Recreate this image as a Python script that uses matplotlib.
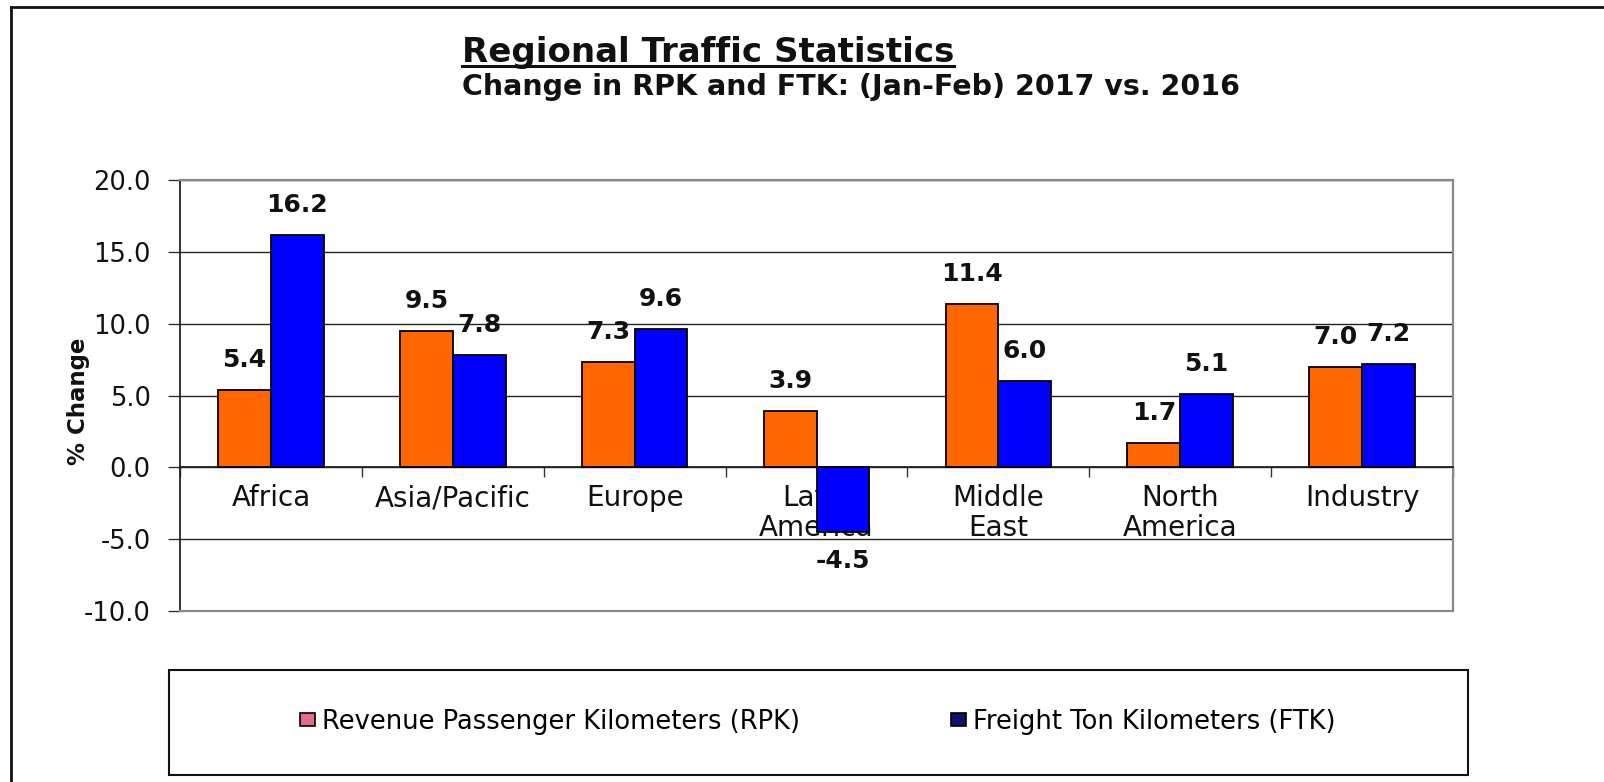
import numpy as np
import matplotlib
matplotlib.use("Agg")
import matplotlib.pyplot as plt
from matplotlib.patches import Rectangle, Patch
from matplotlib.lines import Line2D

# ---- data ----
categories = ["Africa", "Asia/Pacific", "Europe", "Latin\nAmerica",
              "Middle\nEast", "North\nAmerica", "Industry"]
rpk = [5.4, 9.5, 7.3, 3.9, 11.4, 1.7, 7.0]
ftk = [16.2, 7.8, 9.6, -4.5, 6.0, 5.1, 7.2]
series_names = ["Revenue Passenger Kilometers (RPK)", "Freight Ton Kilometers (FTK)"]
yticks = [-10, -5, 0, 5, 10, 15, 20]
title = "Regional Traffic Statistics"
subtitle = "Change in RPK and FTK: (Jan-Feb) 2017 vs. 2016"
ylabel = "% Change"

plt.rcParams['font.family'] = ['DejaVu Sans']

W, H = 1604, 782
fig = plt.figure(figsize=(W / 100, H / 100), dpi=100)
fig.patch.set_facecolor('white')

ax = fig.add_axes([180 / W, 1 - 611 / H, (1453 - 180) / W, (611 - 180) / H])

x = np.arange(len(categories))
w = 0.29
bars_rpk = ax.bar(x - w / 2, rpk, w, color='#FF6600', edgecolor='black', linewidth=1.3, zorder=3)
bars_ftk = ax.bar(x + w / 2, ftk, w, color='#0000FF', edgecolor='black', linewidth=1.3, zorder=3)

ax.set_xlim(-0.5, len(categories) - 0.5)
ax.set_ylim(yticks[0], yticks[-1])
ax.set_yticks(yticks)
ax.set_yticklabels([f"{v:.1f}" for v in yticks])
ax.tick_params(axis='y', direction='out', length=9, width=1, pad=12, labelsize=18.5,
               color='#333333', labelcolor='#111111')

# category boundary ticks on the zero line
ax.set_xticks(np.arange(len(categories) + 1) - 0.5)
ax.set_xticklabels([])
ax.tick_params(axis='x', direction='out', length=7, width=1, color='#333333')

ax.set_axisbelow(True)
ax.yaxis.grid(True, color='#222222', linewidth=1.0, zorder=0.5)

ax.spines['left'].set_color('#222222')
ax.spines['left'].set_linewidth(1.3)
ax.spines['bottom'].set_position(('data', 0))
ax.spines['bottom'].set_color('#222222')
ax.spines['bottom'].set_linewidth(1.3)
for s in ('top', 'right'):
    ax.spines[s].set_color('#8a8a8a')
    ax.spines[s].set_linewidth(1.6)
ax.axhline(yticks[0], color='#8a8a8a', linewidth=1.6, zorder=5, clip_on=False)

# category labels (drawn beneath the bars)
px = 0.72  # points per pixel at dpi 100
for i, lab in enumerate(categories):
    for j, line in enumerate(lab.split('\n')):
        ax.annotate(line, xy=(x[i], 0), xytext=(0, -(39 + 30 * j) * px),
                    textcoords='offset points', ha='center', va='baseline',
                    fontsize=20, color='#111111', zorder=2, annotation_clip=False)

# data labels
for bars, vals in ((bars_rpk, rpk), (bars_ftk, ftk)):
    for rect, v in zip(bars, vals):
        off = 30 * px if v >= 0 else -29 * px
        ax.annotate(f"{v:.1f}", xy=(rect.get_x() + rect.get_width() / 2, v),
                    xytext=(0, off), textcoords='offset points',
                    ha='center', va='center', fontsize=18, fontweight='bold',
                    color='#111111', zorder=4, annotation_clip=False)

# y label
fig.text(78 / W, 1 - 401 / H, ylabel, rotation=90, ha='center', va='center',
         fontsize=16.5, fontweight='bold', color='#111111')

# titles
t = fig.text(462 / W, 1 - 62 / H, title, ha='left', va='baseline',
             fontsize=24.5, fontweight='bold', color='#111111')
fig.text(462 / W, 1 - 95 / H, subtitle, ha='left', va='baseline',
         fontsize=20.5, fontweight='bold', color='#111111')
fig.canvas.draw()
bb = t.get_window_extent()
fig.add_artist(Line2D([bb.x0 / W, bb.x1 / W], [1 - 66 / H, 1 - 66 / H],
                      transform=fig.transFigure, color='#111111', linewidth=2.2))

# legend
handles = [Patch(facecolor='#E46C8A', edgecolor='black', linewidth=1.2),
           Patch(facecolor='#101070', edgecolor='black', linewidth=1.2)]
for h, name, xpx in zip(handles, series_names, (300, 951)):
    fig.legend([h], [name], loc='center left', bbox_to_anchor=(xpx / W, 1 - 722 / H),
               frameon=False, fontsize=18.5, handlelength=0.6, handleheight=0.42,
               handletextpad=0.25, borderpad=0, borderaxespad=0)
fig.add_artist(Rectangle((169 / W, 1 - 775 / H), (1468 - 169) / W, 105 / H,
                         transform=fig.transFigure, fill=False,
                         edgecolor='#111111', linewidth=1.5))

# outer frame (left and top edges visible)
fig.add_artist(Line2D([11 / W, 11 / W], [0, 1 - 7 / H], transform=fig.transFigure,
                      color='#111111', linewidth=2))
fig.add_artist(Line2D([11 / W, 1], [1 - 7 / H, 1 - 7 / H], transform=fig.transFigure,
                      color='#111111', linewidth=2))

fig.savefig("out.png", dpi=100, facecolor='white')
